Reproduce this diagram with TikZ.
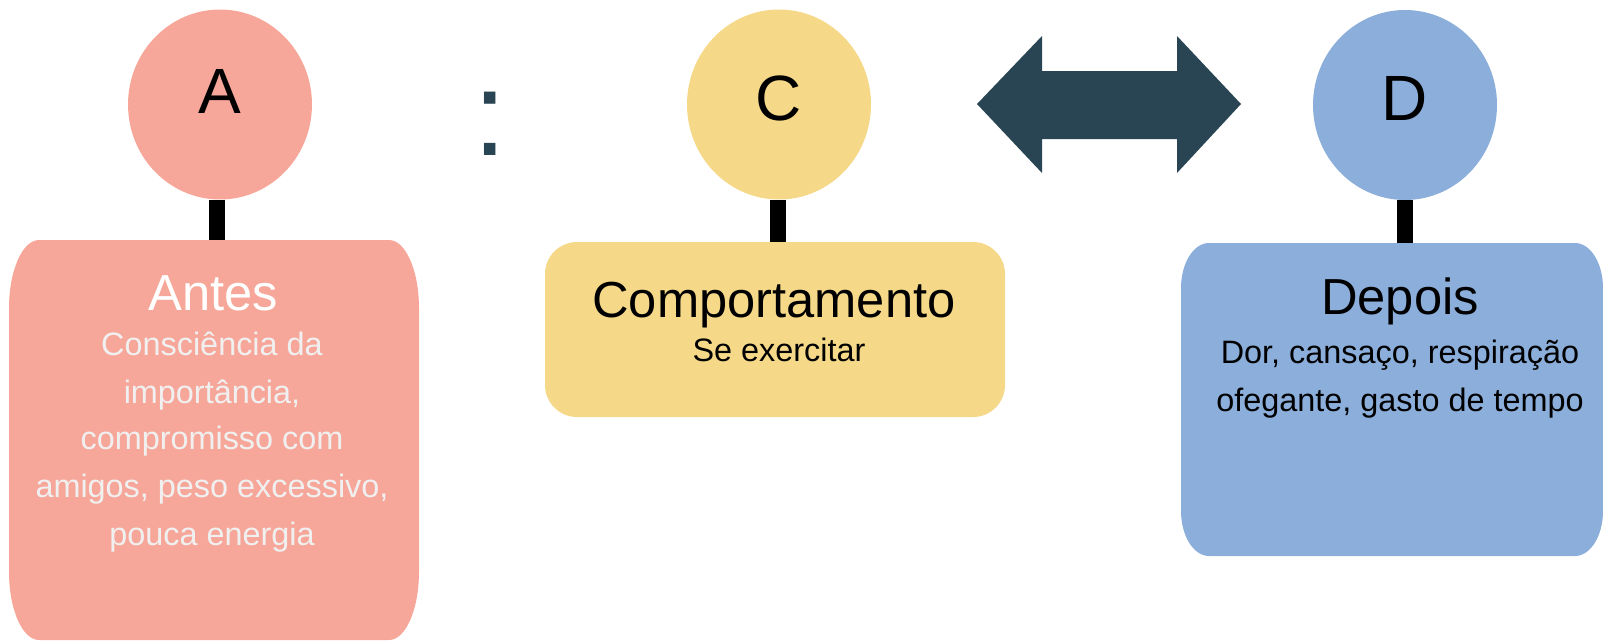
\documentclass[tikz,border=0pt]{standalone}
\usepackage{fontspec}
\setmainfont{Liberation Sans}
\usetikzlibrary{shapes.geometric}
\definecolor{pinkc}{RGB}{247,167,154}
\definecolor{yellowc}{RGB}{245,217,136}
\definecolor{bluec}{RGB}{139,174,219}
\definecolor{slatec}{RGB}{41,68,82}
\definecolor{palew}{RGB}{240,240,240}
% #1 colour, #2 x0, #3 y0, #4 x1, #5 y1, #6 rx, #7 ry
\newcommand\myellbox[7]{%
  \fill[#1] (#2,{#3+#7}) .. controls (#2,{#3+0.4477*#7}) and ({#2+0.4477*#6},#3) .. ({#2+#6},#3)
   -- ({#4-#6},#3) .. controls ({#4-0.4477*#6},#3) and (#4,{#3+0.4477*#7}) .. (#4,{#3+#7})
   -- (#4,{#5-#7}) .. controls (#4,{#5-0.4477*#7}) and ({#4-0.4477*#6},#5) .. ({#4-#6},#5)
   -- ({#2+#6},#5) .. controls ({#2+0.4477*#6},#5) and (#2,{#5-0.4477*#7}) .. (#2,{#5-#7}) -- cycle;}
\begin{document}
\begin{tikzpicture}[x=0.75pt,y=-0.75pt,
  circ/.style={ellipse, minimum width=138pt, minimum height=142.5pt, inner sep=0pt,
    font=\fontsize{48pt}{58pt}\selectfont, text depth=0pt},
  frame/.style={rectangle, inner sep=0pt, outer sep=0pt},
  stem/.style={line width=12pt, black},
  title/.style={anchor=base, inner sep=0pt, font=\fontsize{38pt}{46pt}\selectfont},
  body/.style={anchor=base, inner sep=0pt, font=\fontsize{24.3pt}{30pt}\selectfont}]
\useasboundingbox (0,0) rectangle (1603,640);

% box frames
\node[frame, minimum width=307.5pt, minimum height=300pt] (Abox) at (214,440) {};
\node[frame, minimum width=345pt, minimum height=131.25pt] (Cbox) at (775,329.5) {};
\node[frame, minimum width=316.5pt, minimum height=234.75pt] (Dbox) at (1392,399.5) {};

% circles
\node[circ, fill=pinkc, text height=12.75pt] (A) at (220,104.5) {A};
\node[circ, fill=yellowc, text height=23.25pt] (C) at (779,104.5) {C};
\node[circ, fill=bluec, text height=23.25pt] (D) at (1405,105) {D};

% stems
\draw[stem] ([xshift=-2.25pt]A.south) -- ([xshift=-2.25pt]A.south |- Abox.north);
\draw[stem] ([xshift=-1pt]C.south) -- ([xshift=-1pt]C.south |- Cbox.north);
\draw[stem] (D.south) -- (D.south |- Dbox.north);

% boxes
\myellbox{pinkc}{9}{240}{419}{640}{30}{68}
\myellbox{yellowc}{545}{242}{1005}{417}{32}{32}
\myellbox{bluec}{1181}{243}{1603}{556}{28}{45}

% colon
\node[anchor=base, inner sep=0pt, text=slatec, font=\fontsize{90pt}{100pt}\selectfont] (colon) at (490.5,155) {:};

% double arrow
\fill[slatec] (977,104) -- (1042,36) -- (1042,71) -- (1177,71) -- (1177,36) -- (1241,104)
  -- (1177,173) -- (1177,139) -- (1042,139) -- (1042,173) -- cycle;

% texts
\node[title, text=white] (at) at (213,310) {Antes};
\node[body, text=palew] (a1) at (212,355) {Consciência da};
\node[body, text=palew] (a2) at (212,403) {importância,};
\node[body, text=palew] (a3) at (212,449) {compromisso com};
\node[body, text=palew] (a4) at (212,497) {amigos, peso excessivo,};
\node[body, text=palew] (a5) at (212,545) {pouca energia};

\node[title] (ct) at (774,317) {Comportamento};
\node[body] (c1) at (779,361) {Se exercitar};

\node[title] (dt) at (1400,314) {Depois};
\node[body] (d1) at (1400,363) {Dor, cansaço, respiração};
\node[body] (d2) at (1400,411) {ofegante, gasto de tempo};
\end{tikzpicture}
\end{document}
